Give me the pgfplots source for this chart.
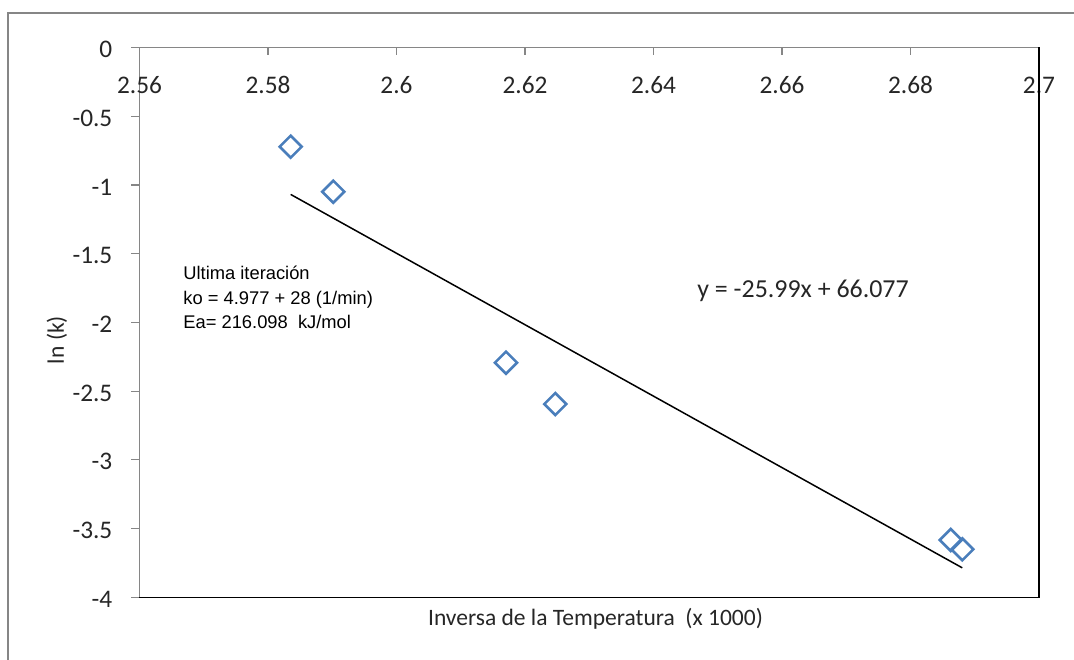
\documentclass[border=0pt]{standalone}
\usepackage{fontspec}
\setmainfont{Carlito}
\newfontfamily\arialfont{Liberation Sans}
\usepackage{pgfplots}
\pgfplotsset{compat=1.18}
\definecolor{mkblue}{RGB}{74,126,187}
\definecolor{axgray}{RGB}{134,134,134}
\begin{document}
\begin{tikzpicture}
\begin{axis}[name=ax, at={(0,0)}, anchor=south west,
  scale only axis, width=449.75bp, height=274.9bp,
  xmin=2.56, xmax=2.7, ymin=-4, ymax=0,
  axis x line*=top, axis y line*=left,
  x axis line style={axgray, line width=0.6bp, -},
  y axis line style={axgray, line width=0.6bp, -},
  xtick={2.56,2.58,2.6,2.62,2.64,2.66,2.68,2.7},
  xticklabels={2.56,2.58,2.6,2.62,2.64,2.66,2.68,2.7},
  ytick={-4,-3.5,-3,-2.5,-2,-1.5,-1,-0.5,0},
  yticklabels={-4,-3.5,-3,-2.5,-2,-1.5,-1,-0.5,0},
  tick align=inside, major tick length=4bp,
  tick style={axgray, line width=0.6bp},
  y tick style={xshift=-4bp},
  xticklabel style={anchor=center, yshift=-18.75bp, font=\fontsize{12.7}{14}\selectfont, text=black!85},
  yticklabel style={anchor=east, inner sep=0pt, xshift=-13.4bp, yshift=-1bp, font=\fontsize{12.7}{14}\selectfont, text=black!85},
  clip=false,
]
\addplot[only marks, mark=square, mark size=3.9bp,
  mark options={rotate=45, draw=mkblue, line width=1.3bp, fill=white}]
  coordinates {(2.58353,-0.7217) (2.59016,-1.049) (2.61704,-2.293) (2.62472,-2.594) (2.68626,-3.583) (2.68806,-3.651)};
\addplot[black, line width=0.75bp] coordinates {(2.58353,-1.0689) (2.68806,-3.7857)};
\draw[black, line width=0.8bp] (rel axis cs:0,0) -- (rel axis cs:1,0) -- (rel axis cs:1,1);
\node[anchor=base west, inner sep=0pt, font=\arialfont\fontsize{9.2}{11}\selectfont] at (axis cs:2.56677,-1.6915) {Ultima iteración};
\node[anchor=base west, inner sep=0pt, font=\arialfont\fontsize{9.2}{11}\selectfont] at (axis cs:2.56677,-1.8734) {ko = 4.977 + 28 (1/min)};
\node[anchor=base west, inner sep=0pt, font=\arialfont\fontsize{9.2}{11}\selectfont] at (axis cs:2.56677,-2.0408) {Ea= 216.098\ \ kJ/mol};
\node[anchor=base west, inner sep=0pt, font=\fontsize{13}{15}\selectfont, text=black!85] at (axis cs:2.64677,-1.8174) {y = -25.99x + 66.077};
\node[anchor=base, inner sep=0pt, yshift=-13.85bp, font=\fontsize{11.8}{14}\selectfont, text=black!85] at (axis cs:2.63097,-4) {Inversa de la Temperatura\ \ (x 1000)};
\node[anchor=center, inner sep=0pt, rotate=90, font=\fontsize{11.8}{14}\selectfont, text=black!85] at ([xshift=-41.25bp]axis cs:2.56,-2.128) {ln (k)};
\end{axis}
\pgfresetboundingbox
\path[use as bounding box] ([shift={(-69.75bp,-31.35bp)}]ax.south west) rectangle ([shift={(17.5bp,23.75bp)}]ax.north east);
\draw[axgray, line width=1bp] ([shift={(-65.75bp,-40bp)}]ax.south west) -- ([shift={(-65.75bp,17.25bp)}]ax.north west) -- ([shift={(40bp,17.25bp)}]ax.north east);
\end{tikzpicture}
\end{document}
